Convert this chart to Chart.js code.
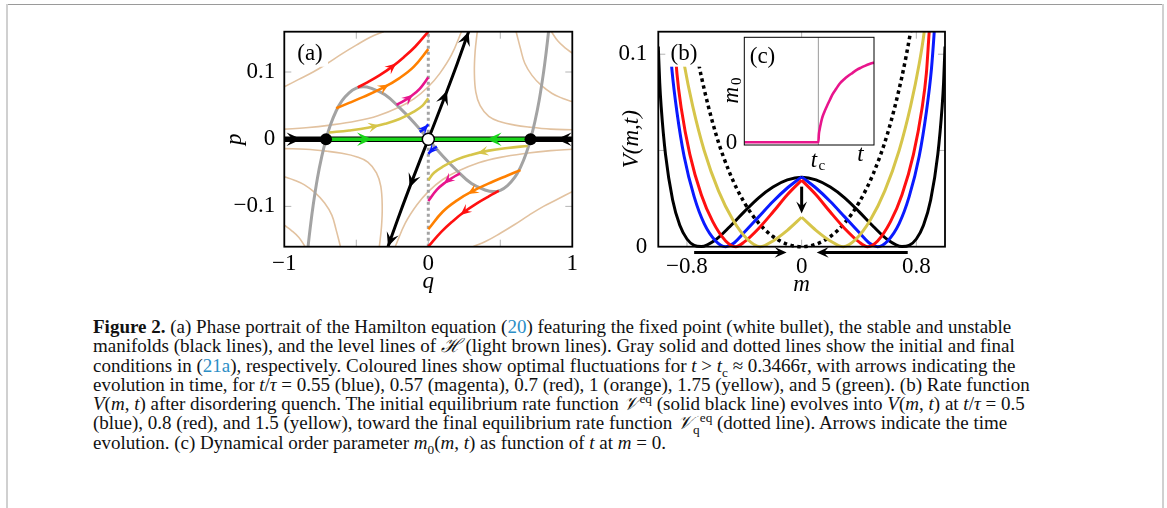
<!DOCTYPE html>
<html>
<head>
<meta charset="utf-8">
<script src="https://cdn.jsdelivr.net/npm/chart.js"></script>
<style>
  html, body { margin: 0; padding: 0; background: #fff; }
  body { width: 1167px; height: 508px; position: relative; overflow: hidden; }
  #lineTop { position: absolute; left: 7px; top: 4px; width: 1157px; height: 1px; background: #9a9a9a; }
  #lineLeft { position: absolute; left: 6px; top: 4px; width: 2px; height: 510px; background: #d0d0d0; }
  #lineRight { position: absolute; left: 1162px; top: 4px; width: 2px; height: 510px; background: #d0d0d0; }
  canvas { position: absolute; }
  #chartA { left: 200px; top: 20px; }
  #chartB { left: 590px; top: 20px; }
  #chartC { left: 715px; top: 30px; }
  #caption { position: absolute; left: 93px; top: 317px; font-family: "Liberation Serif", serif; font-size: 19px; line-height: 19.3px; color: #111; white-space: nowrap; }
  #caption .ref { color: #2b8ec6; }
  #caption sub, #caption sup { font-size: 70%; line-height: 0; }
</style>
</head>
<body>
<div id="lineTop"></div>
<div id="lineLeft"></div>
<div id="lineRight"></div>
<canvas id="chartA" width="390" height="280"></canvas>
<canvas id="chartB" width="370" height="280"></canvas>
<canvas id="chartC" width="175" height="145"></canvas>
<div id="caption">
  <div><b>Figure 2.</b> (a) Phase portrait of the Hamilton equation (<span class="ref">20</span>) featuring the fixed point (white bullet), the stable and unstable</div>
  <div>manifolds (black lines), and the level lines of <i>ℋ</i> (light brown lines). Gray solid and dotted lines show the initial and final</div>
  <div>conditions in (<span class="ref">21a</span>), respectively. Coloured lines show optimal fluctuations for <i>t</i> &gt; <i>t</i><sub>c</sub> ≈ 0.3466<i>τ</i>, with arrows indicating the</div>
  <div>evolution in time, for <i>t</i>/<i>τ</i> = 0.55 (blue), 0.57 (magenta), 0.7 (red), 1 (orange), 1.75 (yellow), and 5 (green). (b) Rate function</div>
  <div><i>V</i>(<i>m</i>, <i>t</i>) after disordering quench. The initial equilibrium rate function <i>𝒱</i><sup>eq</sup> (solid black line) evolves into <i>V</i>(<i>m</i>, <i>t</i>) at <i>t</i>/<i>τ</i> = 0.5</div>
  <div>(blue), 0.8 (red), and 1.5 (yellow), toward the final equilibrium rate function <i>𝒱</i><sub>q</sub><sup>eq</sup> (dotted line). Arrows indicate the time</div>
  <div>evolution. (c) Dynamical order parameter <i>m</i><sub>0</sub>(<i>m</i>, <i>t</i>) as function of <i>t</i> at <i>m</i> = 0.</div>
</div>
<script>
// ---------- panel (a): phase portrait (q, p) ----------
var aTickQ = [-1, 0, 1];
var aTickP = [-0.1, 0, 0.1];
var aMarkQ = [-0.5, 0, 0.5];
var aMarkP = [-0.1, 0, 0.1];

// level lines of H (light brown)
var levelA = [[-1,0.078],[-0.9,0.089],[-0.8,0.1],[-0.7,0.113],[-0.6,0.127],[-0.5,0.14],[-0.4,0.152],[-0.31,0.16]];
var levelB = [[-1,0.015],[-0.85,0.017],[-0.68,0.021],[-0.5,0.027],[-0.35,0.035],[-0.2,0.048],[-0.1,0.06],[0,0.078],[0.08,0.098],[0.16,0.125],[0.23,0.16]];
var levelC = [[0.34,0.16],[0.325,0.13],[0.32,0.1],[0.33,0.07],[0.36,0.05],[0.42,0.034],[0.5,0.026],[0.6,0.021],[0.7,0.018],[0.85,0.015],[1,0.014]];
var levelD = [[0.61,0.16],[0.64,0.135],[0.67,0.113],[0.72,0.095],[0.785,0.08],[0.86,0.068],[0.93,0.061],[1,0.056]];
var levelE = [[0.855,0.16],[0.9,0.146],[0.95,0.136],[1,0.128]];
var levelAm = [[1,-0.078],[0.9,-0.089],[0.8,-0.1],[0.7,-0.113],[0.6,-0.127],[0.5,-0.14],[0.4,-0.152],[0.31,-0.16]];
var levelBm = [[1,-0.015],[0.85,-0.017],[0.68,-0.021],[0.5,-0.027],[0.35,-0.035],[0.2,-0.048],[0.1,-0.06],[0,-0.078],[-0.08,-0.098],[-0.16,-0.125],[-0.23,-0.16]];
var levelCm = [[-0.34,-0.16],[-0.325,-0.13],[-0.32,-0.1],[-0.33,-0.07],[-0.36,-0.05],[-0.42,-0.034],[-0.5,-0.026],[-0.6,-0.021],[-0.7,-0.018],[-0.85,-0.015],[-1,-0.014]];
var levelDm = [[-0.61,-0.16],[-0.64,-0.135],[-0.67,-0.113],[-0.72,-0.095],[-0.785,-0.08],[-0.86,-0.068],[-0.93,-0.061],[-1,-0.056]];
var levelEm = [[-0.855,-0.16],[-0.9,-0.146],[-0.95,-0.136],[-1,-0.128]];

// initial (gray solid) and final (gray dotted) conditions
var grayInitial = [[-0.845,-0.182],[-0.835,-0.16],[-0.82,-0.132],[-0.8,-0.099],[-0.77,-0.058],[-0.74,-0.026],[-0.71,0],[-0.68,0.021],[-0.64,0.042],[-0.6,0.057],[-0.55,0.069],[-0.5,0.076],[-0.45,0.078],[-0.4,0.076],[-0.3,0.066],[-0.2,0.047],[-0.1,0.025],[0,0],[0.1,-0.025],[0.2,-0.047],[0.3,-0.066],[0.4,-0.076],[0.45,-0.078],[0.5,-0.076],[0.55,-0.069],[0.6,-0.057],[0.64,-0.042],[0.68,-0.021],[0.71,0],[0.74,0.026],[0.77,0.058],[0.8,0.099],[0.82,0.132],[0.835,0.16],[0.845,0.182]];
var grayFinal = [[0,-0.16],[0,0.16]];

// optimal fluctuations
var redUp = [[-0.49,0.077],[-0.42,0.085],[-0.34,0.095],[-0.25,0.108],[-0.17,0.122],[-0.09,0.138],[0,0.16]];
var redDown = [[0.49,-0.077],[0.42,-0.085],[0.34,-0.095],[0.25,-0.108],[0.17,-0.122],[0.09,-0.138],[0,-0.16]];
var orangeUp = [[-0.64,0.046],[-0.55,0.054],[-0.45,0.063],[-0.31,0.077],[-0.2,0.091],[-0.1,0.108],[0,0.134]];
var orangeDown = [[0.64,-0.046],[0.55,-0.054],[0.45,-0.063],[0.31,-0.077],[0.2,-0.091],[0.1,-0.108],[0,-0.134]];
var magentaUp = [[-0.22,0.051],[-0.17,0.057],[-0.12,0.064],[-0.06,0.075],[0,0.092]];
var magentaDown = [[0.22,-0.051],[0.17,-0.057],[0.12,-0.064],[0.06,-0.075],[0,-0.092]];
var yellowUp = [[-0.69,0.01],[-0.55,0.013],[-0.42,0.017],[-0.3,0.023],[-0.2,0.03],[-0.1,0.041],[-0.04,0.05],[0,0.061]];
var yellowDown = [[0.69,-0.01],[0.55,-0.013],[0.42,-0.017],[0.3,-0.023],[0.2,-0.03],[0.1,-0.041],[0.04,-0.05],[0,-0.061]];
var blueUp = [[-0.06,0.011],[-0.03,0.015],[0,0.022]];
var blueDown = [[0.06,-0.011],[0.03,-0.015],[0,-0.022]];

// manifolds and fixed points
var stableLeft = [[-1,0],[0,0]];
var stableRight = [[1,0],[0,0]];
var greenLeft = [[-0.71,0],[0,0]];
var greenRight = [[0.71,0],[0,0]];
var unstableUp = [[0,0],[0.1,0.055],[0.2,0.112],[0.28,0.16],[0.3,0.172]];
var unstableDown = [[0,0],[-0.1,-0.055],[-0.2,-0.112],[-0.28,-0.16],[-0.3,-0.172]];
var blackDots = [[-0.71,0],[0.71,0]];
var whiteDot = [[0,0]];

// ---------- panel (b): rate functions V(m,t) ----------
var bTickM = [-0.8, 0, 0.8];
var bTickV = [0, 0.1];
var bMarkM = [-0.8, 0, 0.8];
var bMarkV = [0.05, 0.1];

var vEq = [[-1,0.104],[-0.99,0.085],[-0.98,0.0728],[-0.95,0.0481],[-0.9,0.0243],[-0.85,0.0111],[-0.8,0.004],[-0.75,0.0007],[-0.7,0.0001],[-0.6,0.0036],[-0.5,0.0105],[-0.4,0.0182],[-0.3,0.0254],[-0.2,0.031],[-0.1,0.0347],[0,0.0361],[0.1,0.0347],[0.2,0.031],[0.3,0.0254],[0.4,0.0182],[0.5,0.0105],[0.6,0.0036],[0.7,0.0001],[0.75,0.0007],[0.8,0.004],[0.85,0.0111],[0.9,0.0243],[0.95,0.0481],[0.98,0.0728],[0.99,0.085],[1,0.104]];
var vEqQuench = [[-0.8,0.1304],[-0.76,0.1117],[-0.7,0.0885],[-0.6,0.059],[-0.5,0.038],[-0.4,0.0229],[-0.3,0.0123],[-0.2,0.0053],[-0.1,0.0013],[0,0],[0.1,0.0013],[0.2,0.0053],[0.3,0.0123],[0.4,0.0229],[0.5,0.038],[0.6,0.059],[0.7,0.0885],[0.76,0.1117],[0.8,0.1304]];
var vBlueL = [[-0.94,0.13],[-0.925,0.1117],[-0.905,0.092],[-0.87,0.07],[-0.82,0.047],[-0.75,0.026],[-0.68,0.012],[-0.6,0.003],[-0.53,0],[-0.48,0.0015],[-0.4,0.0075],[-0.3,0.0155],[-0.2,0.0235],[-0.1,0.0305],[0,0.0363]];
var vBlueR = [[0,0.0363],[0.1,0.0305],[0.2,0.0235],[0.3,0.0155],[0.4,0.0075],[0.48,0.0015],[0.53,0],[0.6,0.003],[0.68,0.012],[0.75,0.026],[0.82,0.047],[0.87,0.07],[0.905,0.092],[0.925,0.1117],[0.94,0.13]];
var vRedL = [[-0.91,0.13],[-0.89,0.1117],[-0.87,0.09],[-0.84,0.072],[-0.78,0.048],[-0.7,0.027],[-0.62,0.013],[-0.53,0.003],[-0.46,0],[-0.4,0.0025],[-0.3,0.0095],[-0.2,0.018],[-0.1,0.027],[0,0.0346]];
var vRedR = [[0,0.0346],[0.1,0.027],[0.2,0.018],[0.3,0.0095],[0.4,0.0025],[0.46,0],[0.53,0.003],[0.62,0.013],[0.7,0.027],[0.78,0.048],[0.84,0.072],[0.87,0.09],[0.89,0.1117],[0.91,0.13]];
var vYellowL = [[-0.88,0.13],[-0.855,0.1117],[-0.82,0.095],[-0.76,0.073],[-0.68,0.05],[-0.58,0.029],[-0.48,0.014],[-0.38,0.004],[-0.29,0],[-0.2,0.003],[-0.1,0.0085],[0,0.0153]];
var vYellowR = [[0,0.0153],[0.1,0.0085],[0.2,0.003],[0.29,0],[0.38,0.004],[0.48,0.014],[0.58,0.029],[0.68,0.05],[0.76,0.073],[0.82,0.095],[0.855,0.1117],[0.88,0.13]];
// time-evolution arrows [tail, tip]
var bArrows = [[[-0.75,-0.003],[-0.105,-0.003]], [[0.74,-0.003],[0.105,-0.003]], [[0,0.0312],[0,0.0173]]];

// ---------- panel (c): order parameter m0(t) ----------
var cCritical = 0.571;
var cTime = [0, 0.571, 0.575, 0.58, 0.59, 0.6, 0.615, 0.635, 0.66, 0.68, 0.71, 0.738, 0.77, 0.8, 0.835, 0.867, 0.9, 0.93, 0.965, 1.0];
var cM0 = [0.025, 0.025, 0.1, 0.14, 0.2, 0.25, 0.3, 0.356, 0.42, 0.47, 0.525, 0.573, 0.61, 0.64, 0.67, 0.697, 0.718, 0.735, 0.752, 0.765];

var brown = 'rgb(226,194,160)';
var cRed = '#ff1010', cOrange = '#ff8000', cMagenta = '#e8158c', cYellow = '#d6c54a', cBlue = '#0a1aff', cGreen = '#19d419';
var serif = 'Liberation Serif';
var tickFont = { family: serif, size: 23 };
var titleFont = { family: serif, size: 23, style: 'italic' };

function xy(arr) { return arr.map(function (p) { return { x: p[0], y: p[1] }; }); }
function curve(pts, color, width, extra) {
  return Object.assign({ data: xy(pts), borderColor: color, backgroundColor: color, borderWidth: width,
    pointRadius: 0, showLine: true, tension: 0.4, fill: false }, extra || {});
}
function fmt(v) { return v < 0 ? '\u2212' + (-v) : String(v); }

function drawHead(ctx, x, y, ang, L, color) {
  ctx.save();
  ctx.translate(x, y);
  ctx.rotate(ang);
  ctx.fillStyle = color;
  ctx.beginPath();
  ctx.moveTo(0, 0);
  ctx.lineTo(-L, -L * 0.45);
  ctx.lineTo(-L * 0.6, 0);
  ctx.lineTo(-L, L * 0.45);
  ctx.closePath();
  ctx.fill();
  ctx.restore();
}

// arrowheads placed along a dataset polyline at given length fractions
var arrowPlugin = {
  id: 'arrows',
  afterDatasetsDraw: function (chart) {
    var ctx = chart.ctx;
    chart.data.datasets.forEach(function (ds, i) {
      if (!ds.arrows) return;
      var pts = chart.getDatasetMeta(i).data.map(function (p) { return [p.x, p.y]; });
      var seg = [], total = 0;
      for (var k = 1; k < pts.length; k++) {
        var d = Math.hypot(pts[k][0] - pts[k - 1][0], pts[k][1] - pts[k - 1][1]);
        seg.push(d); total += d;
      }
      ds.arrows.forEach(function (f) {
        var target = f * total, j = 0;
        while (j < seg.length - 1 && target > seg[j]) { target -= seg[j]; j++; }
        var a = pts[j], b = pts[j + 1];
        var t = seg[j] ? target / seg[j] : 0;
        drawHead(ctx, a[0] + (b[0] - a[0]) * t, a[1] + (b[1] - a[1]) * t,
          Math.atan2(b[1] - a[1], b[0] - a[0]), ds.headSize || 11, ds.borderColor);
      });
    });
  }
};

// frame, inward tick marks, panel label
var framePlugin = {
  id: 'frame',
  beforeDatasetsDraw: function (chart, args, opts) {
    var ctx = chart.ctx, ca = chart.chartArea, sx = chart.scales.x, sy = chart.scales.y;
    ctx.save();
    ctx.strokeStyle = '#b4b4b4';
    ctx.lineWidth = 1;
    ctx.beginPath();
    (opts.marksX || []).forEach(function (v) {
      var x = sx.getPixelForValue(v);
      ctx.moveTo(x, ca.top); ctx.lineTo(x, ca.top + 7);
      ctx.moveTo(x, ca.bottom); ctx.lineTo(x, ca.bottom - 7);
    });
    (opts.marksY || []).forEach(function (v) {
      var y = sy.getPixelForValue(v);
      ctx.moveTo(ca.left, y); ctx.lineTo(ca.left + 7, y);
      ctx.moveTo(ca.right, y); ctx.lineTo(ca.right - 7, y);
    });
    ctx.stroke();
    ctx.restore();
  },
  afterDatasetsDraw: function (chart, args, opts) {
    var ctx = chart.ctx, ca = chart.chartArea;
    ctx.save();
    if (opts.label) {
      var lx = ca.left + 25.7, ly = ca.top + 22;
      ctx.fillStyle = '#fff';
      ctx.fillRect(lx - 18, ca.top, 36, ly + 13 - ca.top);
      ctx.fillStyle = '#000';
      ctx.font = '23px "' + serif + '"';
      ctx.textAlign = 'center';
      ctx.textBaseline = 'middle';
      ctx.fillText(opts.label, lx, ly);
    }
    ctx.strokeStyle = '#000';
    ctx.lineWidth = 1.8;
    ctx.strokeRect(ca.left, ca.top, ca.right - ca.left, ca.bottom - ca.top);
    // free arrows given as [tail, tip] in data units
    (opts.freeArrows || []).forEach(function (arw) {
      var x0 = chart.scales.x.getPixelForValue(arw[0][0]), y0 = chart.scales.y.getPixelForValue(arw[0][1]);
      var x1 = chart.scales.x.getPixelForValue(arw[1][0]), y1 = chart.scales.y.getPixelForValue(arw[1][1]);
      var ang = Math.atan2(y1 - y0, x1 - x0);
      ctx.strokeStyle = '#000';
      ctx.lineWidth = 3;
      ctx.beginPath();
      ctx.moveTo(x0, y0);
      ctx.lineTo(x1 - 6 * Math.cos(ang), y1 - 6 * Math.sin(ang));
      ctx.stroke();
      drawHead(ctx, x1, y1, ang, 12, '#000');
    });
    ctx.restore();
  }
};

function noPad(s) { s.paddingLeft = 0; s.paddingRight = 0; s.paddingTop = 0; s.paddingBottom = 0; }

function axes(xmin, xmax, ymin, ymax, xt, yt, xTitle, yTitle, dims) {
  return {
    x: { type: 'linear', min: xmin, max: xmax,
      grid: { display: false, drawTicks: false }, border: { display: false },
      afterBuildTicks: function (s) { s.ticks = xt.map(function (v) { return { value: v }; }); },
      afterFit: function (s) { s.height = dims.xh; noPad(s); },
      ticks: { padding: dims.xpad, font: tickFont, color: '#000', callback: fmt, maxRotation: 0, autoSkip: false },
      title: { display: true, text: xTitle, font: titleFont, color: '#000', padding: { top: 0, bottom: dims.xtpad } } },
    y: { type: 'linear', min: ymin, max: ymax,
      grid: { display: false, drawTicks: false }, border: { display: false },
      afterBuildTicks: function (s) { s.ticks = yt.map(function (v) { return { value: v }; }); },
      afterFit: function (s) { s.width = dims.yw; noPad(s); },
      ticks: { padding: dims.ypad, font: tickFont, color: '#000', callback: fmt, autoSkip: false },
      title: { display: true, text: yTitle, font: titleFont, color: '#000', padding: { top: dims.ytpad, bottom: 0 } } }
  };
}

var common = { responsive: false, animation: false, events: [], devicePixelRatio: 1 };

// ---------- chart (a) ----------
var aSets = [
  curve(levelA, brown, 1.6, { order: 20 }), curve(levelB, brown, 1.6, { order: 20 }),
  curve(levelC, brown, 1.6, { order: 20 }), curve(levelD, brown, 1.6, { order: 20 }),
  curve(levelE, brown, 1.6, { order: 20 }), curve(levelAm, brown, 1.6, { order: 20 }),
  curve(levelBm, brown, 1.6, { order: 20 }), curve(levelCm, brown, 1.6, { order: 20 }),
  curve(levelDm, brown, 1.6, { order: 20 }), curve(levelEm, brown, 1.6, { order: 20 }),
  curve(grayInitial, '#a3a3a3', 3, { order: 18 }),
  curve(grayFinal, '#a3a3a3', 3, { order: 17, borderDash: [3, 3], tension: 0 }),
  curve(redUp, cRed, 2.6, { order: 15, arrows: [0.5], headSize: 11 }),
  curve(redDown, cRed, 2.6, { order: 15, arrows: [0.5], headSize: 11 }),
  curve(orangeUp, cOrange, 2.6, { order: 15, arrows: [0.52], headSize: 11 }),
  curve(orangeDown, cOrange, 2.6, { order: 15, arrows: [0.52], headSize: 11 }),
  curve(magentaUp, cMagenta, 2.6, { order: 15, arrows: [0.45], headSize: 11 }),
  curve(magentaDown, cMagenta, 2.6, { order: 15, arrows: [0.45], headSize: 11 }),
  curve(yellowUp, cYellow, 2.6, { order: 15, arrows: [0.47], headSize: 11 }),
  curve(yellowDown, cYellow, 2.6, { order: 15, arrows: [0.47], headSize: 11 }),
  curve(blueUp, cBlue, 2.6, { order: 15, arrows: [0.98], headSize: 10 }),
  curve(blueDown, cBlue, 2.6, { order: 15, arrows: [0.98], headSize: 10 }),
  curve(stableLeft, '#000', 5.5, { order: 12, tension: 0, arrows: [0.12], headSize: 15 }),
  curve(stableRight, '#000', 5.5, { order: 12, tension: 0, arrows: [0.11], headSize: 15 }),
  curve(unstableUp, '#000', 3, { order: 11, arrows: [0.42, 0.93], headSize: 14 }),
  curve(unstableDown, '#000', 3, { order: 11, arrows: [0.42, 0.93], headSize: 14 }),
  curve(greenLeft, cGreen, 3.5, { order: 10, tension: 0, arrows: [0.45], headSize: 15 }),
  curve(greenRight, cGreen, 3.5, { order: 10, tension: 0, arrows: [0.43], headSize: 15 }),
  { data: xy(blackDots), showLine: false, pointRadius: 6, pointBackgroundColor: '#000', pointBorderColor: '#000', pointBorderWidth: 0, order: 2 },
  { data: xy(whiteDot), showLine: false, pointRadius: 6, pointBackgroundColor: '#fff', pointBorderColor: '#000', pointBorderWidth: 1.5, order: 1 }
];

new Chart(document.getElementById('chartA'), {
  type: 'scatter',
  data: { datasets: aSets },
  options: Object.assign({}, common, {
    layout: { padding: { top: 11.7, right: 17.7, left: 0, bottom: 0 } },
    plugins: { legend: { display: false }, tooltip: { enabled: false },
      frame: { label: '(a)', marksX: aMarkQ, marksY: aMarkP } },
    scales: axes(-1, 1, -0.16, 0.16, aTickQ, aTickP, 'q', 'p',
      { xh: 53.3, xpad: 3.5, xtpad: 4, yw: 84.3, ypad: 9, ytpad: 21 })
  }),
  plugins: [framePlugin, arrowPlugin]
});

// ---------- chart (b) ----------
var bClip = { left: 0, top: 0, right: 0, bottom: 3 };
var bSets = [
  curve(vEq, '#000', 3, { order: 9, tension: 0, cubicInterpolationMode: 'monotone', clip: bClip }),
  curve(vEqQuench, '#000', 3.5, { order: 8, borderDash: [3.5, 3.5], cubicInterpolationMode: 'monotone', clip: bClip }),
  curve(vBlueL, cBlue, 3, { order: 7, cubicInterpolationMode: 'monotone', clip: bClip }),
  curve(vBlueR, cBlue, 3, { order: 7, cubicInterpolationMode: 'monotone', clip: bClip }),
  curve(vRedL, cRed, 3, { order: 6, cubicInterpolationMode: 'monotone', clip: bClip }),
  curve(vRedR, cRed, 3, { order: 6, cubicInterpolationMode: 'monotone', clip: bClip }),
  curve(vYellowL, cYellow, 3, { order: 5, cubicInterpolationMode: 'monotone', clip: bClip }),
  curve(vYellowR, cYellow, 3, { order: 5, cubicInterpolationMode: 'monotone', clip: bClip })
];

new Chart(document.getElementById('chartB'), {
  type: 'scatter',
  data: { datasets: bSets },
  options: Object.assign({}, common, {
    layout: { padding: { top: 11.7, right: 15, left: 0, bottom: 0 } },
    plugins: { legend: { display: false }, tooltip: { enabled: false },
      frame: { label: '(b)', marksX: bMarkM, marksY: bMarkV, freeArrows: bArrows } },
    scales: axes(-1, 1, 0, 0.1117, bTickM, bTickV, 'm', 'V(m,t)',
      { xh: 53.3, xpad: 6, xtpad: 1, yw: 68.3, ypad: 11, ytpad: 28 })
  }),
  plugins: [framePlugin, arrowPlugin]
});

// ---------- chart (c) inset ----------
var insetPlugin = {
  id: 'inset',
  beforeDatasetsDraw: function (chart) {
    var ctx = chart.ctx, ca = chart.chartArea;
    ctx.save();
    ctx.fillStyle = '#fff';
    ctx.fillRect(ca.left, ca.top, ca.right - ca.left, ca.bottom - ca.top);
    var x = chart.scales.x.getPixelForValue(cCritical);
    ctx.strokeStyle = '#9a9a9a';
    ctx.lineWidth = 1;
    ctx.beginPath(); ctx.moveTo(x, ca.top); ctx.lineTo(x, ca.bottom); ctx.stroke();
    ctx.restore();
  },
  afterDatasetsDraw: function (chart) {
    var ctx = chart.ctx, ca = chart.chartArea;
    var xc = chart.scales.x.getPixelForValue(cCritical);
    ctx.save();
    ctx.strokeStyle = '#000';
    ctx.lineWidth = 1;
    ctx.strokeRect(ca.left, ca.top, ca.right - ca.left, ca.bottom - ca.top);
    ctx.fillStyle = '#000';
    ctx.textAlign = 'center';
    ctx.textBaseline = 'middle';
    ctx.font = '23px "' + serif + '"';
    ctx.fillText('(c)', ca.left + 18.2, ca.top + 19.7);
    ctx.fillText('0', ca.left - 12.8, chart.scales.y.getPixelForValue(0) - 2);
    ctx.font = 'italic 23px "' + serif + '"';
    ctx.fillText('t', xc - 4.3, ca.bottom + 16.3);
    ctx.fillText('t', ca.right - 13.5, ca.bottom + 10);
    ctx.font = '15px "' + serif + '"';
    ctx.fillText('c', xc + 3.5, ca.bottom + 21);
    ctx.translate(ca.left - 12.6, (ca.top + ca.bottom) / 2);
    ctx.rotate(-Math.PI / 2);
    ctx.font = 'italic 23px "' + serif + '"';
    ctx.fillText('m', -4, 0);
    ctx.font = '15px "' + serif + '"';
    ctx.fillText('0', 10, 5);
    ctx.restore();
  }
};

new Chart(document.getElementById('chartC'), {
  type: 'scatter',
  data: { datasets: [curve(cTime.map(function (t, i) { return [t, cM0[i]]; }), cMagenta, 2.6,
    { tension: 0, cubicInterpolationMode: 'monotone' })] },
  options: Object.assign({}, common, {
    layout: { padding: { top: 7.3, right: 16, left: 29.3, bottom: 30 } },
    plugins: { legend: { display: false }, tooltip: { enabled: false } },
    scales: {
      x: { type: 'linear', min: 0, max: 1, display: false },
      y: { type: 'linear', min: 0, max: 1, display: false }
    }
  }),
  plugins: [insetPlugin]
});
</script>
</body>
</html>
